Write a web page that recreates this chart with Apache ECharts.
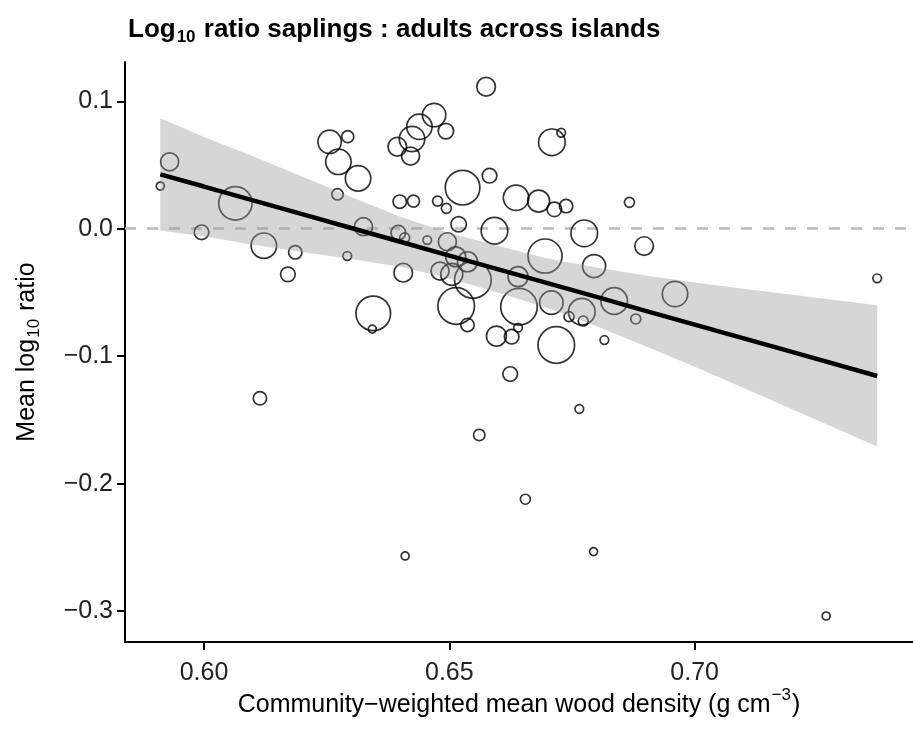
<!DOCTYPE html>
<html>
<head>
<meta charset="utf-8">
<script src="https://cdn.jsdelivr.net/npm/echarts@6/dist/echarts.min.js"></script>
<style>
html,body{margin:0;padding:0;background:#fff;}
#chart{width:913px;height:734px;}
</style>
</head>
<body>
<div id="chart"></div>
<script>
// Island-level values
const woodDensity = [0.5930, 0.5911, 0.6064, 0.5995, 0.6122, 0.6186, 0.6292, 0.6256, 0.6293, 0.6274, 0.6314, 0.6272, 0.6325, 0.6575, 0.6469, 0.6439, 0.6493, 0.6424, 0.6394, 0.6421, 0.6709, 0.6728, 0.6527, 0.6582, 0.6399, 0.6427, 0.6476, 0.6494, 0.6636, 0.6682, 0.6714, 0.6738, 0.6519, 0.6592, 0.6775, 0.6695, 0.6795, 0.6396, 0.6409, 0.6455, 0.6496, 0.6406, 0.6481, 0.6505, 0.6513, 0.6537, 0.6548, 0.6640, 0.6345, 0.6343, 0.6514, 0.6537, 0.6642, 0.6708, 0.6770, 0.6744, 0.6773, 0.6836, 0.6596, 0.6627, 0.6640, 0.6718, 0.6816, 0.6624, 0.6765, 0.6561, 0.6897, 0.6960, 0.6880, 0.7372, 0.6867, 0.6171, 0.6114, 0.6655, 0.6410, 0.6794, 0.7268];
const logRatio = [0.0525, 0.0335, 0.0199, -0.0028, -0.0133, -0.0185, -0.0214, 0.0682, 0.0722, 0.0525, 0.0395, 0.0270, 0.0016, 0.1114, 0.0892, 0.0800, 0.0766, 0.0704, 0.0643, 0.0570, 0.0678, 0.0753, 0.0322, 0.0416, 0.0212, 0.0217, 0.0217, 0.0160, 0.0243, 0.0217, 0.0152, 0.0178, 0.0035, -0.0016, -0.0036, -0.0214, -0.0293, -0.0031, -0.0071, -0.0089, -0.0102, -0.0345, -0.0332, -0.0358, -0.0220, -0.0259, -0.0402, -0.0376, -0.0664, -0.0787, -0.0606, -0.0755, -0.0612, -0.0580, -0.0651, -0.0690, -0.0724, -0.0567, -0.0842, -0.0847, -0.0776, -0.0912, -0.0873, -0.1140, -0.1414, -0.1618, -0.0136, -0.0512, -0.0708, -0.0389, 0.0207, -0.0358, -0.1330, -0.2122, -0.2567, -0.2533, -0.3038];
// relative point-size variable (as read from circle radii)
const pointWeight = [9, 4, 16.7, 7.3, 12.7, 6.7, 4.3, 11.7, 6, 12.7, 12.7, 5.7, 9, 9.3, 11.7, 12.7, 7.7, 12.7, 9.3, 9, 13.3, 4.3, 17.3, 7.3, 6.7, 6, 5, 5, 12.7, 11, 7.3, 6.7, 7.7, 13.3, 13.3, 17, 11.5, 7.3, 5, 4.3, 9, 9.3, 9, 11, 10, 10, 18.3, 10, 17.3, 4, 18.3, 6.7, 18.3, 11.7, 13.3, 5, 5, 13.3, 10, 7.3, 4.3, 18.3, 4.3, 7.3, 4.3, 5.7, 9.3, 12.7, 5, 4.3, 5, 7.3, 6.7, 5, 4, 4, 4];

// Linear fit and confidence band
const bandX     = [0.5911, 0.60, 0.61, 0.62, 0.63, 0.64, 0.65, 0.66, 0.67, 0.68, 0.69, 0.70, 0.71, 0.72, 0.7372];
const fitY      = [0.0427, 0.0331, 0.0222, 0.0114, 0.0006, -0.0102, -0.0211, -0.0319, -0.0427, -0.0535, -0.0644, -0.0752, -0.0860, -0.0968, -0.1155];
const bandUpper = [0.0867, 0.0720, 0.0569, 0.0410, 0.0249, 0.0094, -0.0034, -0.0136, -0.0233, -0.0305, -0.0366, -0.0421, -0.0471, -0.0518, -0.0601];
const bandLower = [-0.0013, -0.0058, -0.0125, -0.0182, -0.0237, -0.0298, -0.0388, -0.0502, -0.0621, -0.0765, -0.0922, -0.1083, -0.1249, -0.1418, -0.1709];

// Tick labels
const xTicks = [0.60, 0.65, 0.70];
const yTicks = [-0.3, -0.2, -0.1, 0.0, 0.1];

const chart = echarts.init(document.getElementById('chart'), null, {renderer: 'canvas'});
const FONT = '"Liberation Sans", Arial, Helvetica, sans-serif';
const fmtY = v => (v < -1e-9 ? '\u2212' : '') + Math.abs(v).toFixed(1);

const option = {
  animation: false,
  backgroundColor: '#ffffff',
  title: {
    text: '{m|Log}{s|10}{m| ratio saplings : adults across islands}',
    left: 123,
    top: 12,
    textStyle: {
      fontFamily: FONT,
      rich: {
        m: {fontFamily: FONT, fontSize: 26, fontWeight: 'bold', color: '#000', verticalAlign: 'top', lineHeight: 32},
        s: {fontFamily: FONT, fontSize: 17, fontWeight: 'bold', color: '#000', verticalAlign: 'top', lineHeight: 32, padding: [12, 1, 0, 1]}
      }
    }
  },
  grid: {left: 125, right: -9, top: 62, bottom: 92, containLabel: false},
  xAxis: {
    type: 'value',
    min: 0.5839,
    max: 0.7445,
    name: '{m|Community\u2212weighted mean wood density (g cm}{p|\u22123}{m|)}',
    nameLocation: 'middle',
    nameGap: 45,
    nameMoveOverlap: false,
    nameTextStyle: {
      fontFamily: FONT,
      rich: {
        m: {fontFamily: FONT, fontSize: 25, color: '#000', verticalAlign: 'top', lineHeight: 32, padding: [6, 0, 0, 0]},
        p: {fontFamily: FONT, fontSize: 17, color: '#000', verticalAlign: 'top', lineHeight: 32, padding: [0, 1, 0, 1]}
      }
    },
    splitLine: {show: false},
    axisLine: {show: true, onZero: false, lineStyle: {color: '#000', width: 2}},
    axisTick: {show: true, length: 8, lineStyle: {color: '#000', width: 2}, customValues: xTicks},
    axisLabel: {
      fontFamily: FONT, fontSize: 25, color: '#222', margin: 19,
      customValues: xTicks,
      formatter: v => v.toFixed(2)
    }
  },
  yAxis: {
    type: 'value',
    min: -0.3242,
    max: 0.1308,
    name: '{m|Mean log}{s|10}{m| ratio}',
    nameLocation: 'middle',
    nameRotate: 90,
    nameGap: 80,
    nameMoveOverlap: false,
    nameTextStyle: {
      fontFamily: FONT,
      rich: {
        m: {fontFamily: FONT, fontSize: 25, color: '#000', verticalAlign: 'top', lineHeight: 30},
        s: {fontFamily: FONT, fontSize: 17, color: '#000', verticalAlign: 'top', lineHeight: 30, padding: [11, 1, 0, 1]}
      }
    },
    splitLine: {show: false},
    axisLine: {show: true, onZero: false, lineStyle: {color: '#000', width: 2}},
    axisTick: {show: true, length: 8, lineStyle: {color: '#000', width: 2}, customValues: yTicks},
    axisLabel: {
      fontFamily: FONT, fontSize: 25, color: '#222', margin: 12,
      customValues: yTicks,
      formatter: fmtY
    }
  },
  series: [
    {
      type: 'scatter',
      name: 'islands',
      z: 2,
      data: woodDensity.map((x, i) => [x, logRatio[i], pointWeight[i]]),
      symbol: 'circle',
      symbolSize: d => d[2] * 2,
      itemStyle: {color: 'rgba(0,0,0,0)', borderColor: '#000', borderWidth: 1.7},
      markLine: {
        silent: true,
        symbol: 'none',
        label: {show: false},
        lineStyle: {color: '#bdbdbd', type: [11, 11], width: 2.6},
        data: [{yAxis: 0}],
        z: 1
      }
    },
    {
      type: 'custom',
      name: 'band',
      z: 3,
      data: bandX.map((x, i) => [x, bandLower[i], bandUpper[i]]),
      encode: {x: 0, y: [1, 2]},
      renderItem: function (params, api) {
        if (params.dataIndex !== 0) return null;
        const pts = [];
        for (let i = 0; i < bandX.length; i++) pts.push(api.coord([bandX[i], bandUpper[i]]));
        for (let i = bandX.length - 1; i >= 0; i--) pts.push(api.coord([bandX[i], bandLower[i]]));
        return {type: 'polygon', shape: {points: pts}, style: {fill: 'rgba(153,153,153,0.4)', stroke: null}};
      }
    },
    {
      type: 'line',
      name: 'fit',
      z: 4,
      data: bandX.map((x, i) => [x, fitY[i]]),
      symbol: 'none',
      lineStyle: {color: '#000', width: 4.5},
      silent: true
    }
  ]
};
chart.setOption(option);
</script>
</body>
</html>
